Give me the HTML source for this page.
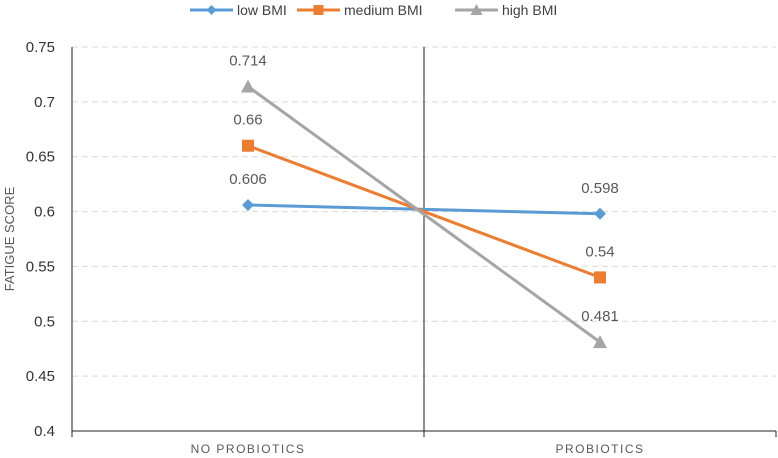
<!DOCTYPE html>
<html><head><meta charset="utf-8"><style>
body{margin:0;background:#fff;font-family:"Liberation Sans",sans-serif}
svg{display:block}
</style></head><body>
<svg width="778" height="458">
<g id="grid"></g>
<g id="axes"></g>
<g id="series"></g>
<g id="legend"></g>
<text transform="translate(14,239) rotate(-90)" text-anchor="middle" font-size="13" fill="#595959">FATIGUE SCORE</text>
</svg>
<script>
const categories=["NO PROBIOTICS","PROBIOTICS"];
const seriesNames=["low BMI","medium BMI","high BMI"];
const lowBMI=[0.606,0.598];
const mediumBMI=[0.66,0.54];
const highBMI=[0.714,0.481];
const yTicks=[0.4,0.45,0.5,0.55,0.6,0.65,0.7,0.75];
const yTickLabels=["0.4","0.45","0.5","0.55","0.6","0.65","0.7","0.75"];
const colors=["#5B9BD5","#ED7D31","#A5A5A5"];
const NS="http://www.w3.org/2000/svg";
const L=72,R=776,T=47,B=431;
const y=v=>B-(v-0.4)/(0.75-0.4)*(B-T);
const x=i=>L+(i+0.5)*(R-L)/categories.length;
function mk(p,tag,a){const e=document.createElementNS(NS,tag);for(const k in a)e.setAttribute(k,a[k]);p.appendChild(e);return e;}
const grid=document.getElementById('grid'),axes=document.getElementById('axes'),ser=document.getElementById('series'),leg=document.getElementById('legend');
yTicks.forEach((t,i)=>{
 if(t>0.4){const g=mk(grid,'line',{x1:L,x2:R,y1:y(t),y2:y(t),stroke:'#D9D9D9','stroke-dasharray':'6,4'});
 
 }
 const tx=mk(axes,'text',{x:55,y:y(t)+5,'text-anchor':'end','font-size':15,fill:'#333'});tx.textContent=yTickLabels[i];
 
 
});
mk(axes,'line',{x1:L,x2:L,y1:T,y2:B,stroke:'#222'});
mk(axes,'line',{x1:L,x2:R,y1:B,y2:B,stroke:'#222'});
mk(axes,'line',{x1:(L+R)/2,x2:(L+R)/2,y1:T,y2:B+6,stroke:'#222'});
mk(axes,'line',{x1:R,x2:R,y1:B,y2:B+6,stroke:'#222'});
mk(axes,'line',{x1:L,x2:L,y1:B,y2:B+6,stroke:'#222'});
categories.forEach((c,i)=>{const t=mk(axes,'text',{x:x(i),y:B+22,'text-anchor':'middle','font-size':12,fill:'#595959','letter-spacing':'1.5'});t.textContent=c;
 
 });
function marker(p,k,cx,cy,s){
 if(k===0)return mk(p,'polygon',{points:`${cx},${cy-s} ${cx+s},${cy} ${cx},${cy+s} ${cx-s},${cy}`,fill:colors[0]});
 if(k===1)return mk(p,'rect',{x:cx-s,y:cy-s,width:2*s,height:2*s,fill:colors[1]});
 return mk(p,'polygon',{points:`${cx},${cy-s-1} ${cx+s+1},${cy+s} ${cx-s-1},${cy+s}`,fill:colors[2]});
}
[lowBMI,mediumBMI,highBMI].forEach((d,k)=>{
 const pl=mk(ser,'polyline',{points:d.map((v,i)=>x(i)+','+y(v)).join(' '),fill:'none',stroke:colors[k],'stroke-width':3});
 
 
 d.forEach((v,i)=>{const m=marker(ser,k,x(i),y(v),6);
  
  
  const t=mk(ser,'text',{x:x(i),y:y(v)-21,'text-anchor':'middle','font-size':15,fill:'#595959'});t.textContent=String(v);
  
  });
});
const lx=[190,297,455];
seriesNames.forEach((n,k)=>{
 const g=mk(leg,'g',{});
 
 
 mk(g,'line',{x1:lx[k],x2:lx[k]+43,y1:10,y2:10,stroke:colors[k],'stroke-width':3});
 marker(g,k,lx[k]+21.5,10,5);
 const t=mk(g,'text',{x:lx[k]+47,y:15,'font-size':14,fill:'#404040'});t.textContent=n;
});
</script>
</body></html>
